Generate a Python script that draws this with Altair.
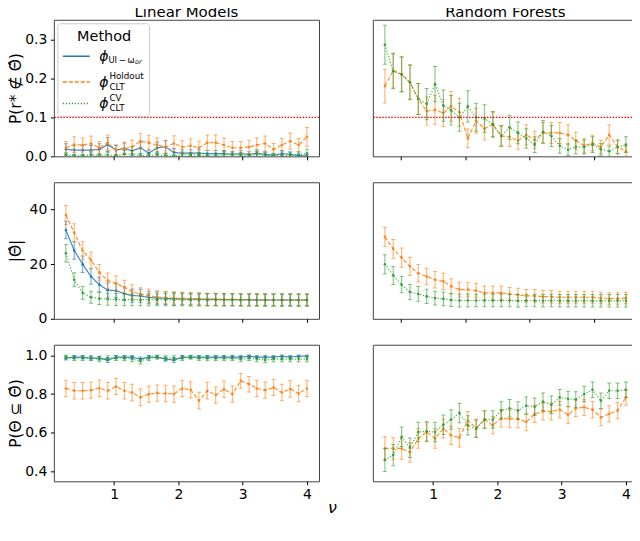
import altair as alt
import pandas as pd

# ---------------- data ----------------
nu = [0.25, 0.38, 0.51, 0.64, 0.77, 0.9, 1.03, 1.16, 1.28, 1.41, 1.54, 1.67, 1.8, 1.93, 2.06,
      2.19, 2.32, 2.45, 2.58, 2.71, 2.84, 2.97, 3.1, 3.22, 3.35, 3.48, 3.61, 3.74, 3.87, 4.0]

# Row 1: P(r* not in Theta-hat)
lin_miss_ui = [0.018, 0.016, 0.016, 0.016, 0.018, 0.030, 0.016, 0.020, 0.014, 0.022, 0.008, 0.022, 0.024, 0.010, 0.008,
               0.008, 0.008, 0.007, 0.007, 0.007, 0.005, 0.007, 0.005, 0.008, 0.005, 0.003, 0.007, 0.005, 0.002, 0.001]
lin_miss_ui_err = [0.014, 0.012, 0.012, 0.012, 0.014, 0.018, 0.012, 0.014, 0.012, 0.015, 0.009, 0.015, 0.016, 0.010, 0.009,
                   0.009, 0.009, 0.008, 0.008, 0.008, 0.007, 0.008, 0.007, 0.009, 0.007, 0.005, 0.008, 0.007, 0.004, 0.003]
lin_miss_ho = [0.022, 0.030, 0.029, 0.033, 0.022, 0.035, 0.016, 0.020, 0.024, 0.039, 0.035, 0.029, 0.024, 0.033, 0.024,
               0.027, 0.022, 0.035, 0.035, 0.029, 0.022, 0.022, 0.024, 0.029, 0.033, 0.018, 0.029, 0.039, 0.029, 0.050]
lin_miss_ho_err = [0.016, 0.020, 0.018, 0.019, 0.016, 0.020, 0.014, 0.016, 0.017, 0.020, 0.019, 0.018, 0.017, 0.020, 0.016,
                   0.018, 0.017, 0.020, 0.020, 0.018, 0.016, 0.016, 0.017, 0.018, 0.019, 0.015, 0.017, 0.021, 0.017, 0.024]
lin_miss_cv = [0.003, 0.001, 0.001, 0.004, 0.002, 0.004, 0.001, 0.006, 0.006, 0.002, 0.002, 0.004, 0.002, 0.001, 0.004,
               0.003, 0.003, 0.002, 0.001, 0.005, 0.004, 0.003, 0.001, 0.005, 0.003, 0.002, 0.001, 0.003, 0.004, 0.008]
lin_miss_cv_err = [0.006, 0.003, 0.003, 0.007, 0.004, 0.007, 0.003, 0.009, 0.009, 0.004, 0.004, 0.007, 0.004, 0.003, 0.007,
                   0.006, 0.006, 0.004, 0.003, 0.008, 0.007, 0.006, 0.003, 0.008, 0.006, 0.004, 0.003, 0.006, 0.007, 0.011]

rf_miss_ho = [0.180, 0.220, 0.210, 0.190, 0.147, 0.116, 0.119, 0.111, 0.128, 0.113, 0.046, 0.091, 0.071, 0.082, 0.052,
              0.050, 0.040, 0.055, 0.042, 0.060, 0.060, 0.060, 0.055, 0.040, 0.027, 0.034, 0.024, 0.055, 0.024, 0.013]
rf_miss_ho_err = [0.043, 0.045, 0.044, 0.043, 0.040, 0.036, 0.037, 0.035, 0.038, 0.036, 0.024, 0.032, 0.029, 0.031, 0.025,
                  0.025, 0.022, 0.026, 0.022, 0.027, 0.027, 0.027, 0.026, 0.022, 0.018, 0.020, 0.017, 0.026, 0.017, 0.013]
rf_miss_cv = [0.286, 0.218, 0.210, 0.190, 0.147, 0.134, 0.185, 0.130, 0.118, 0.100, 0.128, 0.100, 0.097, 0.082, 0.052,
              0.074, 0.060, 0.046, 0.030, 0.063, 0.052, 0.027, 0.017, 0.024, 0.024, 0.030, 0.018, 0.013, 0.024, 0.030]
rf_miss_cv_err = [0.050, 0.045, 0.045, 0.045, 0.040, 0.040, 0.045, 0.040, 0.038, 0.036, 0.040, 0.036, 0.035, 0.033, 0.027,
                  0.031, 0.028, 0.025, 0.020, 0.029, 0.027, 0.019, 0.015, 0.018, 0.018, 0.020, 0.015, 0.013, 0.018, 0.020]

# Row 2: |Theta-hat|
lin_size_ui = [32.5, 25.0, 20.0, 15.5, 12.5, 10.5, 10.3, 9.2, 8.5, 8.4, 7.8, 7.6, 7.5, 7.3, 7.3,
               7.2, 7.2, 7.1, 7.1, 7.0, 7.0, 7.0, 7.0, 6.9, 6.9, 6.9, 6.9, 6.9, 6.9, 6.9]
lin_size_ui_err = [3.2, 3.2, 3.0, 2.8, 2.7, 2.6, 2.6, 2.5, 2.4, 2.4, 2.3, 2.3, 2.3, 2.3, 2.2,
                   2.2, 2.2, 2.2, 2.2, 2.2, 2.2, 2.2, 2.2, 2.2, 2.2, 2.2, 2.2, 2.2, 2.2, 2.2]
lin_size_ho = [38.0, 31.5, 25.0, 21.5, 17.0, 14.0, 13.0, 11.5, 10.0, 9.0, 8.5, 8.0, 7.8, 7.6, 7.5,
               7.4, 7.3, 7.2, 7.2, 7.1, 7.1, 7.0, 7.0, 7.0, 6.9, 6.9, 6.9, 6.9, 6.8, 6.8]
lin_size_ho_err = [3.5, 3.3, 3.2, 3.0, 2.9, 2.8, 2.7, 2.6, 2.5, 2.4, 2.4, 2.3, 2.3, 2.3, 2.2,
                   2.2, 2.2, 2.2, 2.2, 2.2, 2.2, 2.2, 2.2, 2.2, 2.2, 2.2, 2.2, 2.2, 2.2, 2.2]
lin_size_cv = [24.0, 14.3, 9.5, 7.9, 7.4, 7.2, 7.1, 7.0, 7.0, 7.0, 7.0, 7.0, 7.0, 7.0, 7.0,
               6.9, 6.9, 6.9, 6.9, 6.9, 6.9, 6.9, 6.9, 6.9, 6.9, 6.9, 6.9, 6.9, 6.9, 6.9]
lin_size_cv_err = [3.2, 2.6, 2.3, 2.2, 2.2, 2.2, 2.2, 2.2, 2.2, 2.2, 2.2, 2.2, 2.2, 2.2, 2.2,
                   2.2, 2.2, 2.2, 2.2, 2.2, 2.2, 2.2, 2.2, 2.2, 2.2, 2.2, 2.2, 2.2, 2.2, 2.2]

rf_size_ho = [30.0, 25.6, 22.4, 19.2, 16.7, 15.5, 14.3, 13.7, 11.9, 10.7, 10.7, 10.3, 9.5, 9.5, 9.5,
              9.1, 8.8, 8.4, 8.4, 8.1, 8.1, 7.9, 7.9, 7.9, 7.9, 7.9, 7.6, 7.4, 7.4, 7.6]
rf_size_ho_err = [3.5, 3.4, 3.5, 3.3, 3.2, 3.0, 3.0, 3.0, 2.8, 2.7, 2.7, 2.6, 2.5, 2.5, 2.5,
                  2.4, 2.4, 2.3, 2.3, 2.3, 2.3, 2.2, 2.2, 2.2, 2.2, 2.2, 2.1, 2.1, 2.1, 2.1]
rf_size_cv = [20.0, 15.9, 12.5, 9.8, 9.1, 8.2, 7.6, 7.3, 6.9, 6.7, 6.7, 6.7, 6.7, 6.7, 6.7,
              6.7, 6.6, 6.7, 6.7, 6.6, 6.7, 6.6, 6.6, 6.6, 6.6, 6.6, 6.6, 6.6, 6.6, 6.6]
rf_size_cv_err = [3.5, 3.3, 3.0, 2.8, 2.7, 2.6, 2.5, 2.5, 2.4, 2.4, 2.4, 2.3, 2.3, 2.3, 2.3,
                  2.3, 2.3, 2.3, 2.3, 2.3, 2.3, 2.3, 2.3, 2.3, 2.3, 2.3, 2.3, 2.3, 2.3, 2.3]

# Row 3: P(Theta subset of Theta-hat)
lin_cov_ui = [0.985, 0.990, 0.990, 0.985, 0.985, 0.975, 0.990, 0.990, 0.990, 0.980, 0.990, 0.990, 0.980, 0.975, 0.990,
              0.990, 0.990, 0.990, 0.990, 0.990, 0.990, 0.990, 0.995, 0.990, 0.990, 0.990, 0.995, 0.990, 0.995, 0.995]
lin_cov_ui_err = [0.010, 0.008, 0.008, 0.010, 0.010, 0.012, 0.008, 0.008, 0.008, 0.011, 0.008, 0.008, 0.011, 0.012, 0.008,
                  0.008, 0.008, 0.008, 0.008, 0.008, 0.008, 0.008, 0.006, 0.008, 0.008, 0.008, 0.006, 0.008, 0.006, 0.006]
lin_cov_ho = [0.829, 0.817, 0.817, 0.820, 0.830, 0.817, 0.839, 0.817, 0.808, 0.783, 0.800, 0.805, 0.803, 0.800, 0.829,
              0.822, 0.766, 0.817, 0.795, 0.825, 0.800, 0.868, 0.851, 0.829, 0.820, 0.834, 0.808, 0.826, 0.803, 0.829]
lin_cov_ho_err = [0.042, 0.042, 0.042, 0.042, 0.042, 0.042, 0.041, 0.042, 0.042, 0.043, 0.042, 0.042, 0.042, 0.042, 0.042,
                  0.042, 0.043, 0.042, 0.042, 0.042, 0.042, 0.038, 0.040, 0.042, 0.042, 0.041, 0.042, 0.042, 0.042, 0.042]
lin_cov_cv = [0.990, 0.985, 0.985, 0.985, 0.980, 0.985, 0.985, 0.985, 0.980, 0.970, 0.985, 0.990, 0.985, 0.985, 0.985,
              0.990, 0.985, 0.985, 0.985, 0.985, 0.985, 0.980, 0.985, 0.980, 0.975, 0.980, 0.980, 0.980, 0.980, 0.980]
lin_cov_cv_err = [0.010, 0.012, 0.012, 0.012, 0.013, 0.012, 0.012, 0.012, 0.013, 0.015, 0.012, 0.010, 0.012, 0.012, 0.012,
                  0.010, 0.012, 0.012, 0.012, 0.012, 0.012, 0.013, 0.012, 0.013, 0.014, 0.013, 0.013, 0.013, 0.013, 0.013]

rf_cov_ho = [0.520, 0.520, 0.520, 0.500, 0.571, 0.605, 0.571, 0.622, 0.588, 0.575, 0.664, 0.625, 0.669, 0.639, 0.676,
             0.672, 0.672, 0.656, 0.698, 0.710, 0.710, 0.720, 0.693, 0.727, 0.732, 0.720, 0.680, 0.698, 0.715, 0.783]
rf_cov_ho_err = [0.060, 0.055, 0.055, 0.050, 0.050, 0.050, 0.050, 0.048, 0.048, 0.048, 0.046, 0.046, 0.045, 0.045, 0.045,
                 0.045, 0.045, 0.045, 0.044, 0.044, 0.044, 0.043, 0.043, 0.043, 0.042, 0.042, 0.043, 0.042, 0.042, 0.040]
rf_cov_cv = [0.461, 0.486, 0.580, 0.524, 0.605, 0.608, 0.605, 0.642, 0.669, 0.703, 0.639, 0.622, 0.669, 0.669, 0.715,
             0.727, 0.715, 0.740, 0.735, 0.761, 0.745, 0.783, 0.775, 0.772, 0.800, 0.822, 0.766, 0.817, 0.817, 0.822]
rf_cov_cv_err = [0.060, 0.055, 0.050, 0.050, 0.050, 0.050, 0.050, 0.050, 0.050, 0.050, 0.050, 0.045, 0.045, 0.045, 0.045,
                 0.045, 0.045, 0.045, 0.045, 0.045, 0.045, 0.040, 0.040, 0.040, 0.040, 0.040, 0.040, 0.040, 0.040, 0.040]

# ---------------- styling ----------------
FONT = "DejaVu Sans"
COL = {"ui": "#1f77b4", "ho": "#ff7f0e", "cv": "#2ca02c"}
DASH = {"ui": [1, 0], "ho": [4, 2], "cv": [1.2, 1.8]}
W, H = 266, 137
XDOM = [0.0625, 4.1875]


def frame(mean, err):
    return pd.DataFrame({
        "nu": nu,
        "mean": mean,
        "lo": [m - e for m, e in zip(mean, err)],
        "hi": [m + e for m, e in zip(mean, err)],
    })


def make_axes(ydom, ytitle, yvals, yfmt, xvals, xlabels, left, xtitle=None):
    if left:
        yaxis = alt.Axis(values=yvals, format=yfmt, title=ytitle, minExtent=28, maxExtent=28,
                         titlePadding=2, labelPadding=3.5)
    else:
        yaxis = None
    xkw = dict(values=xvals, labels=xlabels, format="d", labelPadding=2.5)
    if xtitle:
        xkw.update(title=xtitle, titleX=279, titleY=31, titleBaseline="alphabetic",
                   titleFontStyle="italic", titleFontSize=16)
    else:
        xkw.update(title=None)
    xaxis = alt.Axis(**xkw)
    xs = alt.Scale(domain=XDOM, nice=False, zero=False)
    ys = alt.Scale(domain=ydom, nice=False, zero=False)
    return xaxis, yaxis, xs, ys


def series_layers(df, key, xaxis, yaxis, xs, ys):
    c = COL[key]
    base = alt.Chart(df)
    X = alt.X("nu:Q", scale=xs, axis=xaxis)
    bars = base.mark_rule(color=c, opacity=0.55, strokeWidth=1.2, clip=True).encode(
        x=X, y=alt.Y("lo:Q", scale=ys, axis=yaxis), y2="hi:Q")
    cap_lo = base.mark_tick(color=c, opacity=0.6, orient="horizontal", size=4, thickness=1, clip=True).encode(
        x=X, y=alt.Y("lo:Q", scale=ys, axis=yaxis))
    cap_hi = base.mark_tick(color=c, opacity=0.6, orient="horizontal", size=4, thickness=1, clip=True).encode(
        x=X, y=alt.Y("hi:Q", scale=ys, axis=yaxis))
    line = base.mark_line(color=c, strokeWidth=1.2, opacity=0.85, strokeDash=DASH[key], clip=True).encode(
        x=X, y=alt.Y("mean:Q", scale=ys, axis=yaxis))
    pts = base.mark_circle(color=c, size=7, opacity=0.9, clip=True).encode(
        x=X, y=alt.Y("mean:Q", scale=ys, axis=yaxis))
    return [bars, cap_lo, cap_hi, line, pts]


def txt(s, x, y, size, italic=False, align="left", baseline="middle"):
    return alt.Chart(alt.Data(values=[{}])).mark_text(
        text=s, align=align, baseline=baseline, fontSize=size, font=FONT,
        fontStyle="italic" if italic else "normal", color="black").encode(
        x=alt.value(x), y=alt.value(y))


def legend_layers():
    one = alt.Data(values=[{}])
    layers = [
        alt.Chart(one).mark_rect(fill="white", fillOpacity=0.8, stroke="#cccccc", strokeWidth=1,
                                 cornerRadius=3).encode(
            x=alt.value(4), x2=alt.value(96), y=alt.value(4), y2=alt.value(97)),
        txt("Method", 50.5, 21, 14.5, align="center", baseline="alphabetic"),
    ]
    for key, yy in [("ui", 36.5), ("ho", 62.5), ("cv", 84)]:
        layers.append(alt.Chart(one).mark_rule(color=COL[key], strokeWidth=1.5, strokeDash=DASH[key]).encode(
            x=alt.value(9), x2=alt.value(36), y=alt.value(yy)))
    layers += [
        txt("ϕ", 45.5, 37.5, 14, italic=True),
        txt("UI\u2009−\u2009ω", 54.7, 40.5, 8.5),
        txt("or", 81.5, 42.5, 6.5, italic=True),
        txt("ϕ", 45.5, 63, 14, italic=True),
        txt("Holdout", 55.7, 56.5, 8.8),
        txt("CLT", 55.7, 67.5, 8.8),
        txt("ϕ", 45.5, 84.5, 14, italic=True),
        txt("CV", 55.7, 78, 8.8),
        txt("CLT", 55.7, 89, 8.8),
    ]
    return layers


def panel(series, ydom, ytitle, yvals, yfmt, xvals, xlabels, left, title=None, redline=False,
          legend=False, xtitle=None):
    xaxis, yaxis, xs, ys = make_axes(ydom, ytitle, yvals, yfmt, xvals, xlabels, left, xtitle)
    layers = []
    for key, mean, err in series:
        layers += series_layers(frame(mean, err), key, xaxis, yaxis, xs, ys)
    if redline:
        layers.append(alt.Chart(alt.Data(values=[{"v": 0.1}])).mark_rule(
            color="red", strokeDash=[1.5, 1.5], strokeWidth=1.2).encode(
            y=alt.Y("v:Q", scale=ys, axis=yaxis)))
    if legend:
        layers += legend_layers()
    if title:
        layers.append(txt(title, W / 2, -2.5, 15, align="center", baseline="alphabetic"))
    return alt.layer(*layers).properties(width=W, height=H)


INT_T = [1, 2, 3, 4]
HALF_T = [0.5, 1, 1.5, 2, 2.5, 3, 3.5, 4]
MISS_T = "P(r* ∉ Θ̂)"
SIZE_T = "|Θ̂|"
COV_T = "P(Θ ⊆ Θ̂)"

p1 = panel([("ui", lin_miss_ui, lin_miss_ui_err), ("ho", lin_miss_ho, lin_miss_ho_err),
            ("cv", lin_miss_cv, lin_miss_cv_err)],
           [0, 0.35], MISS_T, [0, 0.1, 0.2, 0.3], ".1f", INT_T, False, True,
           title="Linear Models", redline=True, legend=True)
p2 = panel([("ho", rf_miss_ho, rf_miss_ho_err), ("cv", rf_miss_cv, rf_miss_cv_err)],
           [0, 0.35], MISS_T, [0, 0.1, 0.2, 0.3], ".1f", HALF_T, False, False,
           title="Random Forests", redline=True)
p3 = panel([("ui", lin_size_ui, lin_size_ui_err), ("ho", lin_size_ho, lin_size_ho_err),
            ("cv", lin_size_cv, lin_size_cv_err)],
           [0, 50], SIZE_T, [0, 20, 40], "d", INT_T, False, True)
p4 = panel([("ho", rf_size_ho, rf_size_ho_err), ("cv", rf_size_cv, rf_size_cv_err)],
           [0, 50], SIZE_T, [0, 20, 40], "d", HALF_T, False, False)
p5 = panel([("ui", lin_cov_ui, lin_cov_ui_err), ("ho", lin_cov_ho, lin_cov_ho_err),
            ("cv", lin_cov_cv, lin_cov_cv_err)],
           [0.351, 1.054], COV_T, [0.4, 0.6, 0.8, 1.0], ".1f", INT_T, True, True, xtitle="ν")
p6 = panel([("ho", rf_cov_ho, rf_cov_ho_err), ("cv", rf_cov_cv, rf_cov_cv_err)],
           [0.351, 1.054], COV_T, [0.4, 0.6, 0.8, 1.0], ".1f", INT_T, True, False)

chart = alt.concat(p1, p2, p3, p4, p5, p6, columns=2, spacing=alt.RowColnumber(row=26, column=54),
                   bounds="flush").properties(
    padding={"left": 0, "top": -4, "right": -8, "bottom": 0}
).configure(font=FONT).configure_view(
    stroke="#444444", strokeWidth=1
).configure_axis(
    grid=False, domain=False, tickColor="black", tickSize=3.5, tickWidth=1,
    labelColor="black", labelFontSize=14, labelFont=FONT,
    titleColor="black", titleFontSize=15.5, titleFontWeight="normal", titleFont=FONT
)

chart.save("out.html", embed_options={"renderer": "svg", "actions": False})
